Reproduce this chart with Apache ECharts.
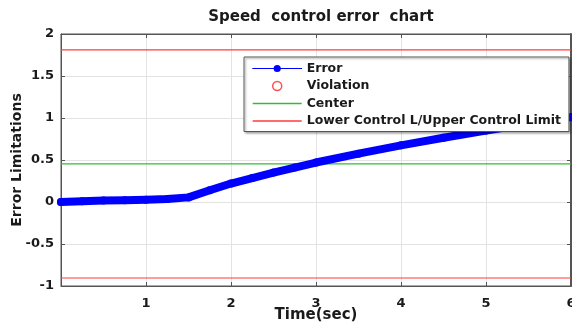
<!DOCTYPE html>
<html>
<head>
<meta charset="utf-8">
<script src="https://cdn.jsdelivr.net/npm/echarts@6/dist/echarts.min.js"></script>
<style>html,body{margin:0;padding:0;background:#fff}#c{width:572px;height:329px}</style>
</head>
<body>
<div id="c"></div>
<script>
const timeSec = [0, 0.25, 0.5, 0.75, 1, 1.25, 1.5, 1.75, 2, 2.25, 2.5, 2.75, 3, 3.5, 4, 4.5, 5, 5.5, 6];
const errorVals = [0, 0.01, 0.017, 0.022, 0.027, 0.035, 0.055, 0.14, 0.22, 0.285, 0.35, 0.41, 0.47, 0.575, 0.675, 0.765, 0.85, 0.93, 1.01];
const violationVals = [];
const centerVal = 0.455;
const uclVal = 1.81;
const lclVal = -0.905;
const xRange = [0, 6];
const yTicks = [-1, -0.5, 0, 0.5, 1, 1.5, 2];

const FONT = 'DejaVu Sans';
const RED = '#ff3b3b';
const GREEN = '#33bb33';
const errorData = timeSec.map((t, i) => [t, errorVals[i]]);
const hline = v => [[xRange[0], v], [xRange[1], v]];
const LIMIT_NAME = 'Lower Control L/Upper Control Limit';

const chart = echarts.init(document.getElementById('c'), null, {renderer: 'canvas'});
chart.setOption({
  animation: false,
  backgroundColor: '#fff',
  title: {
    text: 'Speed  control error  chart',
    left: 316, textAlign: 'center', top: 5,
    textStyle: {fontFamily: FONT, fontWeight: 'bold', fontSize: 15, color: '#1a1a1a'}
  },
  grid: {left: 61, right: 1, top: 34, bottom: 43, containLabel: false, outerBoundsMode: 'none',
         show: true, borderColor: '#555', borderWidth: 1},
  legend: {
    orient: 'vertical', left: 244, top: 57,
    padding: [5, 8, 4, 8], itemGap: 4.5, itemWidth: 49, itemHeight: 9,
    backgroundColor: '#fff', borderColor: '#555', borderWidth: 1,
    shadowColor: 'rgba(0,0,0,0.35)', shadowBlur: 2, shadowOffsetX: 1.5, shadowOffsetY: 1.5,
    textStyle: {fontFamily: FONT, fontWeight: 'bold', fontSize: 12.5, color: '#1a1a1a'},
    data: [
      {name: 'Error', lineStyle: {width: 1, color: '#0000ff'}},
      {name: 'Violation', icon: 'circle', itemStyle: {color: '#fff', borderColor: '#ff2020', borderWidth: 1.5}},
      {name: 'Center', lineStyle: {width: 1.4, color: GREEN, opacity: 1}, itemStyle: {color: 'rgba(0,0,0,0)', borderWidth: 0}},
      {name: LIMIT_NAME, lineStyle: {width: 1.4, color: RED, opacity: 1}, itemStyle: {color: 'rgba(0,0,0,0)', borderWidth: 0}}
    ]
  },
  xAxis: [{
    type: 'value', min: xRange[0], max: xRange[1], interval: 1,
    name: 'Time(sec)', nameLocation: 'middle', nameGap: 22, nameMoveOverlap: false,
    nameTextStyle: {fontFamily: FONT, fontWeight: 'bold', fontSize: 15, color: '#1a1a1a'},
    axisLine: {onZero: false, lineStyle: {color: '#555'}},
    axisTick: {inside: true, length: 4, lineStyle: {color: '#555'}},
    axisLabel: {showMinLabel: false, margin: 11, fontFamily: FONT, fontWeight: 'bold', fontSize: 13, color: '#1a1a1a'},
    splitLine: {show: true, lineStyle: {color: '#e3e3e3'}}
  }, {
    type: 'value', position: 'top', min: xRange[0], max: xRange[1], interval: 1,
    axisLine: {show: true, onZero: false, lineStyle: {color: '#555'}},
    axisTick: {inside: true, length: 4, lineStyle: {color: '#555'}},
    axisLabel: {show: false}, splitLine: {show: false}
  }],
  yAxis: [{
    type: 'value', min: yTicks[0], max: yTicks[yTicks.length - 1], interval: 0.5,
    name: 'Error Limitations', nameLocation: 'middle', nameGap: 37, nameMoveOverlap: false,
    nameTextStyle: {fontFamily: FONT, fontWeight: 'bold', fontSize: 14, color: '#1a1a1a'},
    axisLine: {show: true, onZero: false, lineStyle: {color: '#555'}},
    axisTick: {show: true, inside: true, length: 4, lineStyle: {color: '#555'}},
    axisLabel: {margin: 7, fontFamily: FONT, fontWeight: 'bold', fontSize: 13, color: '#1a1a1a'},
    splitLine: {show: true, lineStyle: {color: '#e3e3e3'}}
  }, {
    type: 'value', position: 'right', min: yTicks[0], max: yTicks[yTicks.length - 1], interval: 0.5,
    axisLine: {show: true, onZero: false, lineStyle: {color: '#555', width: 2}},
    axisTick: {show: true, inside: true, length: 4, lineStyle: {color: '#555'}},
    axisLabel: {show: false}, splitLine: {show: false}
  }],
  series: [
    {name: LIMIT_NAME, type: 'line', data: hline(uclVal), symbol: 'none',
     lineStyle: {color: RED, width: 1.2}, itemStyle: {color: RED}, z: 2},
    {name: LIMIT_NAME, type: 'line', data: hline(lclVal), symbol: 'none',
     lineStyle: {color: RED, width: 1.2}, itemStyle: {color: RED}, z: 2},
    {name: 'Center', type: 'line', data: hline(centerVal), symbol: 'none',
     lineStyle: {color: GREEN, width: 1.2}, itemStyle: {color: GREEN}, z: 2},
    {name: 'Violation', type: 'scatter', data: violationVals, symbol: 'emptyCircle',
     itemStyle: {color: '#ff2020'}},
    {name: 'Error', type: 'line', data: errorData, symbol: 'circle', symbolSize: 8, showSymbol: true,
     clip: false, lineStyle: {color: '#0000ff', width: 8, cap: 'round', join: 'round'},
     itemStyle: {color: '#0000ff'}, z: 3}
  ]
});
</script>
</body>
</html>
